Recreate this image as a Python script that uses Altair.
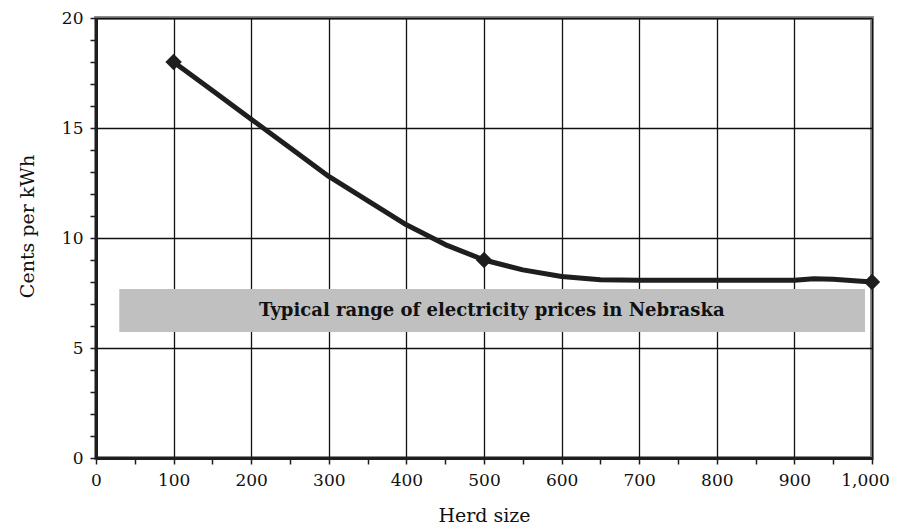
import altair as alt
import pandas as pd

# Curve
herd = [100, 150, 200, 250, 300, 350, 400, 450, 500, 550, 600, 650, 700, 800, 900, 925, 950, 1000]
cents = [18.0, 16.7, 15.4, 14.1, 12.8, 11.7, 10.6, 9.7, 9.0, 8.55, 8.25, 8.1, 8.08, 8.08, 8.08, 8.15, 8.12, 8.0]

marker_herd = [100, 500, 1000]
marker_cents = [18.0, 9.0, 8.0]

band_x = [30]
band_x2 = [991]
band_y = [5.73]
band_y2 = [7.68]
band_label = ["Typical range of electricity prices in Nebraska"]
band_label_x = [510]
band_label_y = [6.7]

x_ticks = list(range(0, 1001, 50))
y_ticks = list(range(0, 21, 1))

FONT = "DejaVu Serif"

line_df = pd.DataFrame({"herd": herd, "cents": cents})
mark_df = pd.DataFrame({"herd": marker_herd, "cents": marker_cents})
band_df = pd.DataFrame({"x": band_x, "x2": band_x2, "y": band_y, "y2": band_y2})
text_df = pd.DataFrame({"x": band_label_x, "y": band_label_y, "t": band_label})

xscale = alt.Scale(domain=[0, 1000], nice=False, zero=False)
yscale = alt.Scale(domain=[0, 20], nice=False, zero=False)

xaxis = alt.Axis(
    title="Herd size",
    values=x_ticks,
    labelExpr="datum.value % 100 == 0 ? format(datum.value, ',') : ''",
    gridColor={"condition": {"test": "datum.value % 100 == 0", "value": "#111111"}, "value": "transparent"},
    labelOffset={"condition": {"test": "datum.value == 1000", "value": -7}, "value": 0},
    titleY=57,
    titleBaseline="middle",
    labelPadding=8,
    labelFlush=False,
    labelOverlap=False,
)
yaxis = alt.Axis(
    title="Cents per kWh",
    values=y_ticks,
    labelExpr="datum.value % 5 == 0 ? format(datum.value, 'd') : ''",
    gridColor={"condition": {"test": "datum.value % 5 == 0", "value": "#111111"}, "value": "transparent"},
    titleX=-69,
    titleY=208,
    titleBaseline="middle",
    labelPadding=7,
    labelFlush=False,
    labelOverlap=False,
)

band = alt.Chart(band_df).mark_rect(color="#c0c0c0").encode(
    x=alt.X("x:Q", scale=xscale, axis=xaxis),
    x2="x2:Q",
    y=alt.Y("y:Q", scale=yscale, axis=yaxis),
    y2="y2:Q",
)

text = alt.Chart(text_df).mark_text(
    font=FONT, fontWeight="bold", fontSize=18, color="#111111", align="center", baseline="middle"
).encode(
    x=alt.X("x:Q", scale=xscale, axis=xaxis),
    y=alt.Y("y:Q", scale=yscale, axis=yaxis),
    text="t:N",
)

line = alt.Chart(line_df).mark_line(color="#1e1e1e", strokeWidth=5, strokeJoin="round").encode(
    x=alt.X("herd:Q", scale=xscale, axis=xaxis),
    y=alt.Y("cents:Q", scale=yscale, axis=yaxis),
)

pts = alt.Chart(mark_df).mark_point(shape="diamond", filled=True, size=270, color="#1e1e1e", opacity=1).encode(
    x=alt.X("herd:Q", scale=xscale, axis=xaxis),
    y=alt.Y("cents:Q", scale=yscale, axis=yaxis),
)

chart = alt.layer(band, text, line, pts).properties(
    width=776,
    height=440,
    autosize=alt.AutoSizeParams(type="none"),
    padding={"left": 88, "top": 10, "right": 24, "bottom": 68},
    background="white",
).configure_view(
    stroke="#8c8c8c", strokeWidth=4
).configure_axis(
    labelFont=FONT,
    titleFont=FONT,
    labelFontSize=17,
    titleFontSize=19,
    labelColor="#111111",
    titleColor="#111111",
    titleFontWeight="normal",
    domainColor="#1e1e1e",
    domainWidth=3,
    tickColor="#1e1e1e",
    tickWidth=1.5,
    tickSize=6,
    gridWidth=1.3,
    gridOpacity=1,
)

chart.save("out.html", embed_options={"renderer": "svg", "actions": False})
